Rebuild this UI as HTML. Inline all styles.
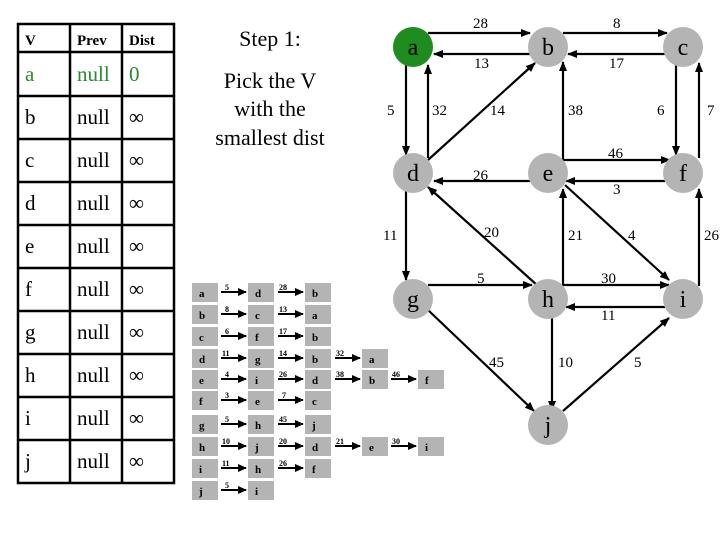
<!DOCTYPE html>
<html><head><meta charset="utf-8"><style>
html,body{margin:0;padding:0;background:#fff;}
svg{display:block;}
</style></head><body>
<svg width="720" height="540" xmlns="http://www.w3.org/2000/svg" font-family="Liberation Serif, serif">
<defs>
<marker id="ah" markerWidth="10" markerHeight="8" refX="9" refY="4" orient="auto" markerUnits="userSpaceOnUse"><path d="M0,0 L10,4 L0,8 z" fill="#000"/></marker>
<marker id="sh" markerWidth="9" markerHeight="8" refX="8" refY="4" orient="auto" markerUnits="userSpaceOnUse"><path d="M0,0 L9,4 L0,8 z" fill="#000"/></marker>
</defs>
<!-- table -->
<g stroke="#000" stroke-width="2.5" fill="none">
<rect x="18" y="24" width="156" height="459"/>
<line x1="70" y1="24" x2="70" y2="483"/><line x1="122" y1="24" x2="122" y2="483"/>
<line x1="18" y1="52" x2="174" y2="52"/><line x1="18" y1="96" x2="174" y2="96"/>
<line x1="18" y1="139" x2="174" y2="139"/><line x1="18" y1="182" x2="174" y2="182"/>
<line x1="18" y1="225" x2="174" y2="225"/><line x1="18" y1="268" x2="174" y2="268"/>
<line x1="18" y1="311" x2="174" y2="311"/><line x1="18" y1="354" x2="174" y2="354"/>
<line x1="18" y1="397" x2="174" y2="397"/><line x1="18" y1="440" x2="174" y2="440"/>
</g>
<g font-size="15" font-weight="bold"><text x="25" y="45">V</text><text x="77" y="45">Prev</text><text x="129" y="45">Dist</text></g>
<g font-size="21">
<text x="25" y="81" fill="#2a8a2a">a</text><text x="77" y="81" fill="#2a8a2a">null</text><text x="129" y="81" fill="#2a8a2a">0</text>
<text x="25" y="124">b</text><text x="77" y="124">null</text><text x="129" y="124">∞</text>
<text x="25" y="167">c</text><text x="77" y="167">null</text><text x="129" y="167">∞</text>
<text x="25" y="210">d</text><text x="77" y="210">null</text><text x="129" y="210">∞</text>
<text x="25" y="253">e</text><text x="77" y="253">null</text><text x="129" y="253">∞</text>
<text x="25" y="296">f</text><text x="77" y="296">null</text><text x="129" y="296">∞</text>
<text x="25" y="339">g</text><text x="77" y="339">null</text><text x="129" y="339">∞</text>
<text x="25" y="382">h</text><text x="77" y="382">null</text><text x="129" y="382">∞</text>
<text x="25" y="425">i</text><text x="77" y="425">null</text><text x="129" y="425">∞</text>
<text x="25" y="468">j</text><text x="77" y="468">null</text><text x="129" y="468">∞</text>
</g>
<g font-size="22" text-anchor="middle">
<text x="270" y="46">Step 1:</text>
<text x="270" y="88">Pick the V</text>
<text x="270" y="116">with the</text>
<text x="270" y="145">smallest dist</text>
</g>
<!-- adjacency list -->
<g fill="#b4b4b4">
<rect x="192" y="283" width="26" height="19"/><rect x="248" y="283" width="26" height="19"/><rect x="305" y="283" width="26" height="19"/>
<rect x="192" y="305" width="26" height="19"/><rect x="248" y="305" width="26" height="19"/><rect x="305" y="305" width="26" height="19"/>
<rect x="192" y="327" width="26" height="19"/><rect x="248" y="327" width="26" height="19"/><rect x="305" y="327" width="26" height="19"/>
<rect x="192" y="349" width="26" height="19"/><rect x="248" y="349" width="26" height="19"/><rect x="305" y="349" width="26" height="19"/><rect x="362" y="349" width="26" height="19"/>
<rect x="192" y="370" width="26" height="19"/><rect x="248" y="370" width="26" height="19"/><rect x="305" y="370" width="26" height="19"/><rect x="362" y="370" width="26" height="19"/><rect x="418" y="370" width="26" height="19"/>
<rect x="192" y="391" width="26" height="19"/><rect x="248" y="391" width="26" height="19"/><rect x="305" y="391" width="26" height="19"/>
<rect x="192" y="415" width="26" height="19"/><rect x="248" y="415" width="26" height="19"/><rect x="305" y="415" width="26" height="19"/>
<rect x="192" y="437" width="26" height="19"/><rect x="248" y="437" width="26" height="19"/><rect x="305" y="437" width="26" height="19"/><rect x="362" y="437" width="26" height="19"/><rect x="418" y="437" width="26" height="19"/>
<rect x="192" y="459" width="26" height="19"/><rect x="248" y="459" width="26" height="19"/><rect x="305" y="459" width="26" height="19"/>
<rect x="192" y="481" width="26" height="19"/><rect x="248" y="481" width="26" height="19"/>
</g>
<g font-size="11" font-weight="bold">
<text x="199" y="297">a</text><text x="255" y="297">d</text><text x="312" y="297">b</text>
<text x="199" y="319">b</text><text x="255" y="319">c</text><text x="312" y="319">a</text>
<text x="199" y="341">c</text><text x="255" y="341">f</text><text x="312" y="341">b</text>
<text x="199" y="363">d</text><text x="255" y="363">g</text><text x="312" y="363">b</text><text x="369" y="363">a</text>
<text x="199" y="384">e</text><text x="255" y="384">i</text><text x="312" y="384">d</text><text x="369" y="384">b</text><text x="425" y="384">f</text>
<text x="199" y="405">f</text><text x="255" y="405">e</text><text x="312" y="405">c</text>
<text x="199" y="429">g</text><text x="255" y="429">h</text><text x="312" y="429">j</text>
<text x="199" y="451">h</text><text x="255" y="451">j</text><text x="312" y="451">d</text><text x="369" y="451">e</text><text x="425" y="451">i</text>
<text x="199" y="473">i</text><text x="255" y="473">h</text><text x="312" y="473">f</text>
<text x="199" y="495">j</text><text x="255" y="495">i</text>
</g>
<g stroke="#000" stroke-width="2" marker-end="url(#sh)">
<line x1="221" y1="292" x2="246" y2="292"/><line x1="278" y1="292" x2="303" y2="292"/>
<line x1="221" y1="314" x2="246" y2="314"/><line x1="278" y1="314" x2="303" y2="314"/>
<line x1="221" y1="336" x2="246" y2="336"/><line x1="278" y1="336" x2="303" y2="336"/>
<line x1="221" y1="358" x2="246" y2="358"/><line x1="278" y1="358" x2="303" y2="358"/><line x1="335" y1="358" x2="360" y2="358"/>
<line x1="221" y1="379" x2="246" y2="379"/><line x1="278" y1="379" x2="303" y2="379"/><line x1="335" y1="379" x2="360" y2="379"/><line x1="391" y1="379" x2="416" y2="379"/>
<line x1="221" y1="400" x2="246" y2="400"/><line x1="278" y1="400" x2="303" y2="400"/>
<line x1="221" y1="424" x2="246" y2="424"/><line x1="278" y1="424" x2="303" y2="424"/>
<line x1="221" y1="446" x2="246" y2="446"/><line x1="278" y1="446" x2="303" y2="446"/><line x1="335" y1="446" x2="360" y2="446"/><line x1="391" y1="446" x2="416" y2="446"/>
<line x1="221" y1="468" x2="246" y2="468"/><line x1="278" y1="468" x2="303" y2="468"/>
<line x1="221" y1="490" x2="246" y2="490"/>
</g>
<g font-size="8" font-weight="bold">
<text x="225" y="290">5</text><text x="279" y="290">28</text>
<text x="225" y="312">8</text><text x="279" y="312">13</text>
<text x="225" y="334">6</text><text x="279" y="334">17</text>
<text x="222" y="356">11</text><text x="279" y="356">14</text><text x="336" y="356">32</text>
<text x="225" y="377">4</text><text x="279" y="377">26</text><text x="336" y="377">38</text><text x="392" y="377">46</text>
<text x="225" y="398">3</text><text x="282" y="398">7</text>
<text x="225" y="422">5</text><text x="279" y="422">45</text>
<text x="222" y="444">10</text><text x="279" y="444">20</text><text x="336" y="444">21</text><text x="392" y="444">30</text>
<text x="222" y="466">11</text><text x="279" y="466">26</text>
<text x="225" y="488">5</text>
</g>
<!-- graph edges -->
<g stroke="#000" stroke-width="2.2" fill="none" marker-end="url(#ah)">
<line x1="428" y1="33" x2="530" y2="33"/>
<line x1="530" y1="54" x2="434" y2="54"/>
<line x1="563" y1="33" x2="667" y2="33"/>
<line x1="667" y1="54" x2="568" y2="54"/>
<line x1="406" y1="65" x2="406" y2="155"/>
<line x1="428" y1="158" x2="428" y2="65"/>
<line x1="428" y1="160" x2="535" y2="63"/>
<line x1="563" y1="160" x2="563" y2="62"/>
<line x1="676" y1="65" x2="676" y2="155"/>
<line x1="699" y1="158" x2="699" y2="63"/>
<line x1="563" y1="160" x2="670" y2="160"/>
<line x1="665" y1="181" x2="566" y2="181"/>
<line x1="530" y1="181" x2="434" y2="181"/>
<line x1="538" y1="286" x2="428" y2="187"/>
<line x1="563" y1="286" x2="563" y2="189"/>
<line x1="565" y1="185" x2="669" y2="280"/>
<line x1="699" y1="286" x2="699" y2="189"/>
<line x1="406" y1="190" x2="406" y2="280"/>
<line x1="428" y1="285" x2="532" y2="285"/>
<line x1="563" y1="285" x2="669" y2="285"/>
<line x1="665" y1="307" x2="566" y2="307"/>
<line x1="428" y1="310" x2="534" y2="411"/>
<line x1="552" y1="316" x2="552" y2="410"/>
<line x1="563" y1="411" x2="669" y2="318"/>
</g>
<g font-size="15">
<text x="473" y="28">28</text><text x="474" y="68">13</text><text x="613" y="28">8</text><text x="609" y="68">17</text>
<text x="387" y="115">5</text><text x="432" y="115">32</text><text x="490" y="115">14</text><text x="568" y="115">38</text>
<text x="657" y="115">6</text><text x="707" y="115">7</text>
<text x="608" y="158">46</text><text x="613" y="194">3</text><text x="473" y="180">26</text>
<text x="383" y="240">11</text><text x="484" y="237">20</text><text x="568" y="240">21</text><text x="628" y="240">4</text><text x="704" y="240">26</text>
<text x="477" y="283">5</text><text x="601" y="283">30</text><text x="601" y="320">11</text>
<text x="489" y="367">45</text><text x="558" y="367">10</text><text x="634" y="367">5</text>
</g>
<!-- nodes -->
<g font-size="24" text-anchor="middle">
<circle cx="413" cy="47" r="20" fill="#1e8c1e"/><text x="413" y="55">a</text>
<circle cx="548" cy="47" r="20" fill="#b4b4b4"/><text x="548" y="55">b</text>
<circle cx="683" cy="47" r="20" fill="#b4b4b4"/><text x="683" y="55">c</text>
<circle cx="413" cy="173" r="20" fill="#b4b4b4"/><text x="413" y="181">d</text>
<circle cx="548" cy="173" r="20" fill="#b4b4b4"/><text x="548" y="181">e</text>
<circle cx="683" cy="173" r="20" fill="#b4b4b4"/><text x="683" y="181">f</text>
<circle cx="413" cy="299" r="20" fill="#b4b4b4"/><text x="413" y="307">g</text>
<circle cx="548" cy="299" r="20" fill="#b4b4b4"/><text x="548" y="307">h</text>
<circle cx="683" cy="299" r="20" fill="#b4b4b4"/><text x="683" y="307">i</text>
<circle cx="548" cy="425" r="20" fill="#b4b4b4"/><text x="548" y="433">j</text>
</g>
</svg>
</body></html>
